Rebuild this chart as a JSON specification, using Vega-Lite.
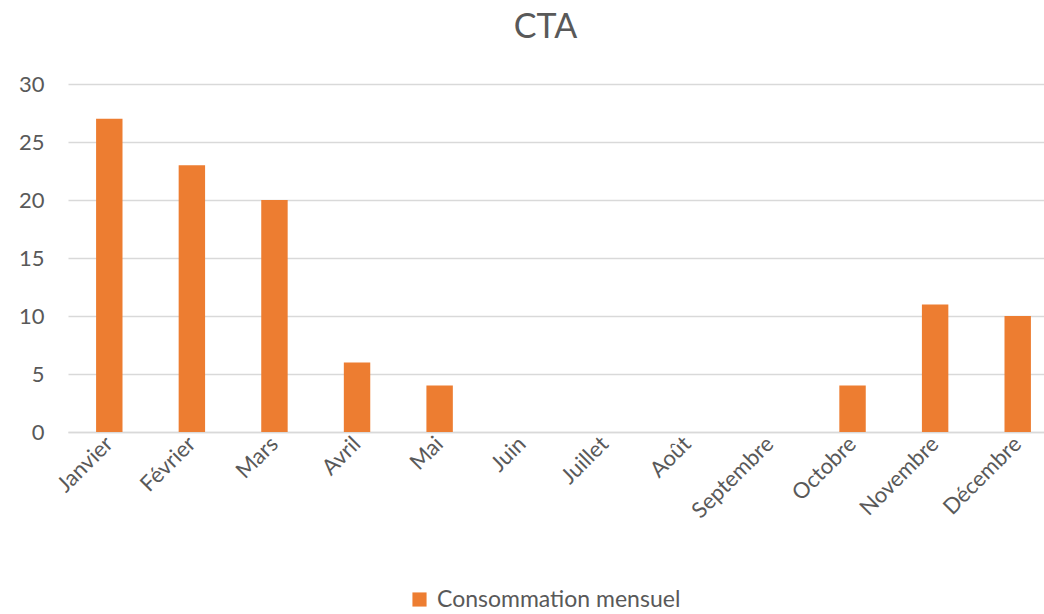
{
  "$schema": "https://vega.github.io/schema/vega-lite/v6.json",
  "autosize": "none",
  "width": 991,
  "height": 348,
  "padding": {"left": 68, "top": 84, "right": 0, "bottom": 182},
  "background": "white",
  "config": {"view": {"stroke": null}, "font": "Lato"},
  "title": {"text": "CTA", "fontSize": 34, "font": "Lato", "fontWeight": "normal", "color": "#595959", "anchor": "middle", "dx": -18, "offset": 28, "frame": "group"},
  "data": {"values": [
    {"mois": "Janvier", "valeur": 27, "serie": "Consommation mensuel"},
    {"mois": "Février", "valeur": 23, "serie": "Consommation mensuel"},
    {"mois": "Mars", "valeur": 20, "serie": "Consommation mensuel"},
    {"mois": "Avril", "valeur": 6, "serie": "Consommation mensuel"},
    {"mois": "Mai", "valeur": 4, "serie": "Consommation mensuel"},
    {"mois": "Juin", "valeur": 0, "serie": "Consommation mensuel"},
    {"mois": "Juillet", "valeur": 0, "serie": "Consommation mensuel"},
    {"mois": "Août", "valeur": 0, "serie": "Consommation mensuel"},
    {"mois": "Septembre", "valeur": 0, "serie": "Consommation mensuel"},
    {"mois": "Octobre", "valeur": 4, "serie": "Consommation mensuel"},
    {"mois": "Novembre", "valeur": 11, "serie": "Consommation mensuel"},
    {"mois": "Décembre", "valeur": 10, "serie": "Consommation mensuel"}
  ]},
  "mark": {"type": "bar"},
  "encoding": {
    "x": {
      "field": "mois", "type": "nominal", "sort": null,
      "scale": {"paddingInner": 0.68, "paddingOuter": 0.34},
      "axis": {"title": null, "labelAngle": -45, "labelAlign": "right", "labelBaseline": "middle", "labelFontSize": 22, "labelColor": "#595959", "labelPadding": 8, "labelLimit": 300, "ticks": false, "domain": true, "domainColor": "#d9d9d9", "domainWidth": 1.5, "grid": false}
    },
    "y": {
      "field": "valeur", "type": "quantitative",
      "scale": {"domain": [0, 30], "nice": false},
      "axis": {"title": null, "values": [0, 5, 10, 15, 20, 25, 30], "labelFontSize": 22, "labelColor": "#595959", "labelPadding": 24, "ticks": false, "domain": false, "grid": true, "gridColor": "#d9d9d9", "gridWidth": 1.5}
    },
    "color": {
      "field": "serie", "type": "nominal",
      "scale": {"range": ["#ed7d31"]},
      "legend": {"title": null, "orient": "none", "legendX": 340, "legendY": 504, "symbolType": "square", "symbolSize": 200, "symbolStrokeWidth": 0, "labelFontSize": 23, "labelColor": "#595959", "labelOffset": 6, "labelLimit": 500}
    }
  }
}
